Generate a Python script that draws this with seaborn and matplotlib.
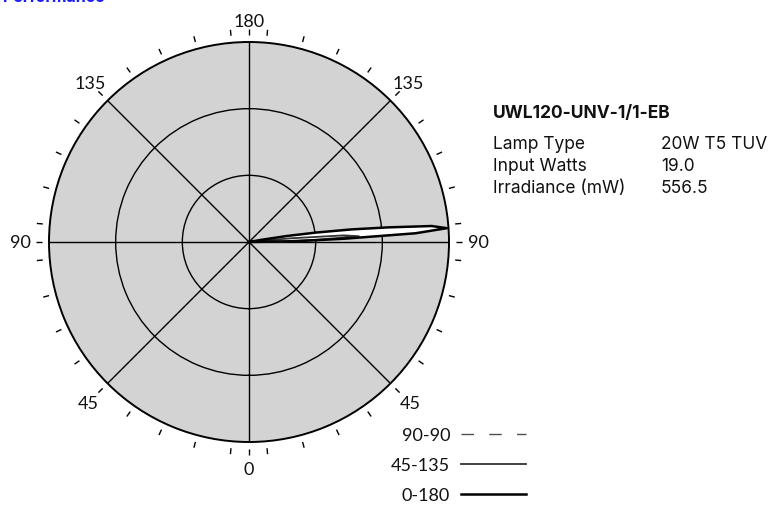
import numpy as np
import pandas as pd
import matplotlib
matplotlib.use("Agg")
import matplotlib.pyplot as plt
from matplotlib.lines import Line2D
import seaborn as sns

# ---------------- data ----------------
title = "Performance"
model = "UWL120-UNV-1/1-EB"
spec_names = ["Lamp Type", "Input Watts", "Irradiance (mW)"]
spec_values = ["20W T5 TUV", "19.0", "556.5"]

angle_deg = [89, 90, 91, 92, 93, 94, 95, 96, 97, 98, 99, 100, 101]
r_0_180 = [0, 0, 150, 290, 500, 595, 550, 420, 310, 205, 115, 40, 0]
r_45_135 = [0, 0, 90, 210, 330, 285, 130, 35, 0, 0, 0, 0, 0]
r_90_90 = [0, 0, 0, 0, 0, 0, 0, 0, 0, 0, 0, 0, 0]
series_names = ["90-90", "45-135", "0-180"]

r_max = 600
ring_values = [200, 400]
spoke_deg = [0, 45, 90, 135, 180, 225, 270, 315]
spoke_labels = ["0", "45", "90", "135", "180", "135", "90", "45"]
tick_deg = sorted(set(list(range(5, 360, 10)) + spoke_deg))

# ---------------- styles ----------------
label_radius = [1.135, 1.14, 1.145, 1.125, 1.105, 1.125, 1.145, 1.14]
colors = {"90-90": "#505050", "45-135": "#333333", "0-180": "#000000"}
widths = {"90-90": 1.0, "45-135": 1.3, "0-180": 1.8}
dash_map = {"90-90": (9, 11), "45-135": "", "0-180": ""}
label_font = "Lato"
info_font = "Inter"

df = pd.concat([
    pd.DataFrame({"theta": np.deg2rad(angle_deg), "r": vals, "plane": name})
    for name, vals in zip(series_names, [r_90_90, r_45_135, r_0_180])
], ignore_index=True)

fig = plt.figure(figsize=(7.68, 5.06), dpi=100)
ax = fig.add_axes([49 / 768, 63 / 506, 400 / 768, 400 / 506], projection="polar")
ax.set_theta_zero_location("S")
ax.set_theta_direction(1)
ax.set_ylim(0, r_max)
ax.set_facecolor("#d3d3d3")

ax.set_rgrids(ring_values, labels=[])
ax.set_thetagrids(spoke_deg, labels=[])
ax.grid(True, color="black", lw=1)
ax.tick_params(axis="x", length=0)
ax.tick_params(axis="y", length=0)
ax.spines["polar"].set_linewidth(1.4)
ax.spines["polar"].set_color("black")

# white fill of the main lobe
ax.fill(np.deg2rad(angle_deg), r_0_180, color="white", zorder=2)

sns.lineplot(data=df, x="theta", y="r", hue="plane", style="plane", size="plane",
             palette=colors, dashes=dash_map, sizes=widths, sort=False,
             estimator=None, legend=False, ax=ax, zorder=3)
ax.set_xlabel("")
ax.set_ylabel("")
ax.set_ylim(0, r_max)

# outer tick marks
ax.vlines(np.deg2rad(tick_deg), r_max * 1.035, r_max * 1.065, colors="black",
          lw=1, clip_on=False)
for d, lab, rr in zip(spoke_deg, spoke_labels, label_radius):
    ax.text(np.deg2rad(d), r_max * rr, lab, ha="center", va="center",
            fontsize=13, family=label_font, color="#111111", clip_on=False)

# legend
handles = [Line2D([], [], color=colors[n], lw=widths[n],
                  linestyle=(0, dash_map[n]) if dash_map[n] else "-")
           for n in series_names]
leg = fig.legend(handles, series_names, markerfirst=False, frameon=False,
                 loc="upper right", bbox_to_anchor=(526 / 768, 1 - 428 / 506),
                 borderpad=0, borderaxespad=0, handlelength=3.6,
                 handletextpad=0.6, labelspacing=0.78,
                 prop={"family": label_font, "size": 13})
for t in leg.get_texts():
    t.set_color("#111111")

# info block
fig.text(493 / 768, 1 - 118 / 506, model, fontsize=12.5, fontweight="bold",
         family=info_font, va="baseline", color="#111111")
for i, (n, v) in enumerate(zip(spec_names, spec_values)):
    y = 1 - (149 + 22 * i) / 506
    fig.text(493 / 768, y, n, fontsize=12.5, family=info_font, va="baseline", color="#111111")
    fig.text(661 / 768, y, v, fontsize=12.5, family=info_font, va="baseline", color="#111111")

fig.text(3 / 768, 1 - 2.5 / 506, title, fontsize=11.5, fontweight="bold",
         color="#1a1aff", family=info_font, va="baseline")

fig.savefig("out.png", dpi=100)
